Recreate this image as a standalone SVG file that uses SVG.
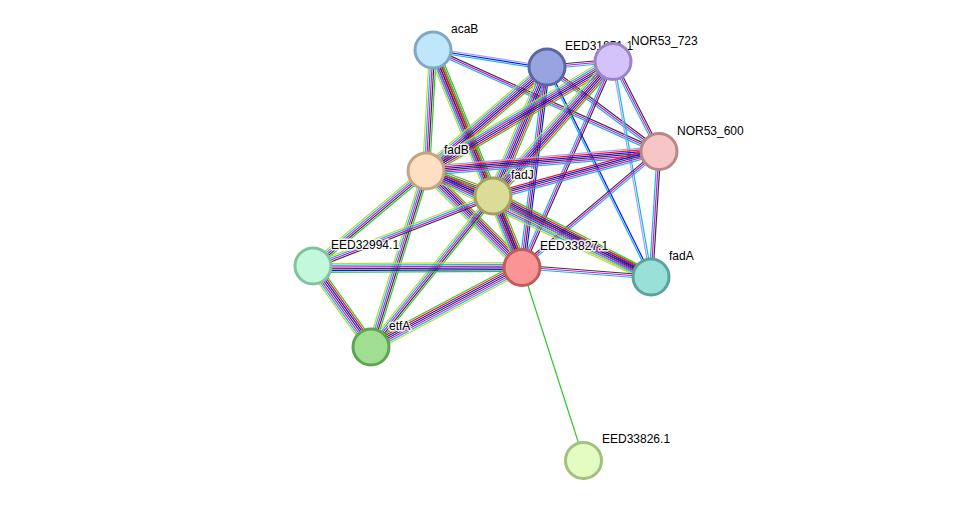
<svg xmlns="http://www.w3.org/2000/svg" width="976" height="506" viewBox="0 0 976 506">
<style>
.e path{fill:none;stroke-width:1.1}
.g{stroke:#30c830}.r{stroke:#ff1010}.b{stroke:#1010ff}.k{stroke:#383838}.m{stroke:#dc10dc}.c{stroke:#18b8e0}.y{stroke:#c0d838}.l{stroke:#a0a0ff}
.n circle{stroke-width:3}
.n text{font-family:"Liberation Sans",Arial,sans-serif;font-size:12px;fill:#000;stroke:#fff;stroke-width:3;stroke-opacity:0.85;paint-order:stroke;stroke-linejoin:round}
</style>
<rect width="976" height="506" fill="#fff"/>
<g id="edges" class="e">
<g transform="translate(433 50) rotate(8.97) scale(115.4 1.1)"><path class="l" d="M0-1.6H1"/><path class="b" d="M0 0H1"/><path class="c" d="M0 1.6H1"/></g>
<g transform="translate(433 50) rotate(24.29) scale(247.9 1.1)"><path class="k" d="M0-1.6H1"/><path class="m" d="M0 0H1"/><path class="c" d="M0 1.6H1"/></g>
<g transform="translate(433 50) rotate(93.28) scale(122.2 1.1)"><path class="g" d="M0-3.2H1"/><path class="k" d="M0-1.6H1"/><path class="m" d="M0 0H1"/><path class="c" d="M0 1.6H1"/><path class="y" d="M0 3.2H1"/></g>
<g transform="translate(433 50) rotate(67.79) scale(158.8 1.1)"><path class="g" d="M0-4.8H1"/><path class="r" d="M0-3.2H1"/><path class="b" d="M0-1.6H1"/><path class="k" d="M0 0H1"/><path class="m" d="M0 1.6H1"/><path class="c" d="M0 3.2H1"/><path class="y" d="M0 4.8H1"/></g>
<g transform="translate(433 50) rotate(67.79) scale(235.5 1.1)"><path class="g" d="M0-3.2H1"/><path class="r" d="M0-1.6H1"/><path class="k" d="M0 0H1"/><path class="m" d="M0 1.6H1"/><path class="c" d="M0 3.2H1"/></g>
<g transform="translate(547 67) rotate(139.32) scale(159.6 1.1)"><path class="g" d="M0-4.8H1"/><path class="r" d="M0-3.2H1"/><path class="b" d="M0-1.6H1"/><path class="k" d="M0 0H1"/><path class="m" d="M0 1.6H1"/><path class="c" d="M0 3.2H1"/><path class="y" d="M0 4.8H1"/></g>
<g transform="translate(547 67) rotate(112.71) scale(139.8 1.1)"><path class="g" d="M0-4.8H1"/><path class="r" d="M0-3.2H1"/><path class="b" d="M0-1.6H1"/><path class="k" d="M0 0H1"/><path class="m" d="M0 1.6H1"/><path class="c" d="M0 3.2H1"/><path class="y" d="M0 4.8H1"/></g>
<g transform="translate(547 67) rotate(97.13) scale(201.6 1.1)"><path class="b" d="M0-2.4H1"/><path class="k" d="M0-0.8H1"/><path class="m" d="M0 0.8H1"/><path class="c" d="M0 2.4H1"/></g>
<g transform="translate(547 67) rotate(36.87) scale(140 1.1)"><path class="k" d="M0-1.6H1"/><path class="m" d="M0 0H1"/><path class="c" d="M0 1.6H1"/></g>
<g transform="translate(547 67) rotate(63.66) scale(234.3 1.1)"><path class="b" d="M0-0.8H1"/><path class="c" d="M0 0.8H1"/></g>
<g transform="translate(547 67) rotate(-5.19) scale(66.3 1.1)"><path class="k" d="M0-1.6H1"/><path class="m" d="M0 0H1"/><path class="c" d="M0 1.6H1"/></g>
<g transform="translate(613 61) rotate(149.53) scale(216.95 1.1)"><path class="g" d="M0-4.8H1"/><path class="r" d="M0-3.2H1"/><path class="b" d="M0-1.6H1"/><path class="k" d="M0 0H1"/><path class="m" d="M0 1.6H1"/><path class="c" d="M0 3.2H1"/><path class="y" d="M0 4.8H1"/></g>
<g transform="translate(613 61) rotate(131.63) scale(180.6 1.1)"><path class="g" d="M0-4.8H1"/><path class="r" d="M0-3.2H1"/><path class="b" d="M0-1.6H1"/><path class="k" d="M0 0H1"/><path class="m" d="M0 1.6H1"/><path class="c" d="M0 3.2H1"/><path class="y" d="M0 4.8H1"/></g>
<g transform="translate(613 61) rotate(113.83) scale(225.2 1.1)"><path class="k" d="M0-1.6H1"/><path class="m" d="M0 0H1"/><path class="c" d="M0 1.6H1"/></g>
<g transform="translate(613 61) rotate(62.93) scale(101.1 1.1)"><path class="k" d="M0-1.6H1"/><path class="m" d="M0 0H1"/><path class="c" d="M0 1.6H1"/></g>
<g transform="translate(613 61) rotate(80.02) scale(219.3 1.1)"><path class="c" d="M0-0.8H1"/><path class="l" d="M0 0.8H1"/></g>
<g transform="translate(426 171) rotate(-4.91) scale(233.9 1.1)"><path class="l" d="M0-4H1"/><path class="r" d="M0-2.4H1"/><path class="b" d="M0-0.8H1"/><path class="k" d="M0 0.8H1"/><path class="m" d="M0 2.4H1"/><path class="c" d="M0 4H1"/></g>
<g transform="translate(493 196) rotate(-15.17) scale(172 1.1)"><path class="r" d="M0-3.2H1"/><path class="b" d="M0-1.6H1"/><path class="k" d="M0 0H1"/><path class="m" d="M0 1.6H1"/><path class="c" d="M0 3.2H1"/></g>
<g transform="translate(522 267) rotate(-40.26) scale(179.5 1.1)"><path class="k" d="M0-1.6H1"/><path class="m" d="M0 0H1"/><path class="c" d="M0 1.6H1"/></g>
<g transform="translate(659 151) rotate(93.63) scale(126.3 1.1)"><path class="k" d="M0-1.6H1"/><path class="m" d="M0 0H1"/><path class="c" d="M0 1.6H1"/></g>
<g transform="translate(426 171) rotate(20.46) scale(71.5 1.1)"><path class="g" d="M0-4.8H1"/><path class="r" d="M0-3.2H1"/><path class="b" d="M0-1.6H1"/><path class="k" d="M0 0H1"/><path class="m" d="M0 1.6H1"/><path class="c" d="M0 3.2H1"/><path class="y" d="M0 4.8H1"/></g>
<g transform="translate(426 171) rotate(45) scale(135.8 1.1)"><path class="g" d="M0-4.8H1"/><path class="r" d="M0-3.2H1"/><path class="b" d="M0-1.6H1"/><path class="k" d="M0 0H1"/><path class="m" d="M0 1.6H1"/><path class="c" d="M0 3.2H1"/><path class="y" d="M0 4.8H1"/></g>
<g transform="translate(426 171) rotate(25.23) scale(248.7 1.1)"><path class="g" d="M0-4.8H1"/><path class="r" d="M0-3.2H1"/><path class="b" d="M0-1.6H1"/><path class="k" d="M0 0H1"/><path class="m" d="M0 1.6H1"/><path class="c" d="M0 3.2H1"/><path class="y" d="M0 4.8H1"/></g>
<g transform="translate(426 171) rotate(139.94) scale(147.6 1.1)"><path class="g" d="M0-3.2H1"/><path class="k" d="M0-1.6H1"/><path class="m" d="M0 0H1"/><path class="c" d="M0 1.6H1"/><path class="y" d="M0 3.2H1"/></g>
<g transform="translate(426 171) rotate(107.35) scale(184.4 1.1)"><path class="g" d="M0-3.2H1"/><path class="k" d="M0-1.6H1"/><path class="m" d="M0 0H1"/><path class="c" d="M0 1.6H1"/><path class="y" d="M0 3.2H1"/></g>
<g transform="translate(493 196) rotate(67.78) scale(76.7 1.1)"><path class="g" d="M0-4.8H1"/><path class="r" d="M0-3.2H1"/><path class="b" d="M0-1.6H1"/><path class="k" d="M0 0H1"/><path class="m" d="M0 1.6H1"/><path class="c" d="M0 3.2H1"/><path class="y" d="M0 4.8H1"/></g>
<g transform="translate(493 196) rotate(27.14) scale(177.6 1.1)"><path class="g" d="M0-4.8H1"/><path class="r" d="M0-3.2H1"/><path class="b" d="M0-1.6H1"/><path class="k" d="M0 0H1"/><path class="m" d="M0 1.6H1"/><path class="c" d="M0 3.2H1"/><path class="y" d="M0 4.8H1"/></g>
<g transform="translate(493 196) rotate(158.75) scale(193.1 1.1)"><path class="k" d="M0-2.4H1"/><path class="m" d="M0-0.8H1"/><path class="c" d="M0 0.8H1"/><path class="y" d="M0 2.4H1"/></g>
<g transform="translate(493 196) rotate(128.94) scale(194.1 1.1)"><path class="g" d="M0-3.2H1"/><path class="k" d="M0-1.6H1"/><path class="m" d="M0 0H1"/><path class="c" d="M0 1.6H1"/><path class="y" d="M0 3.2H1"/></g>
<g transform="translate(522 267) rotate(4.43) scale(129.4 1.1)"><path class="k" d="M0-1.6H1"/><path class="m" d="M0 0H1"/><path class="c" d="M0 1.6H1"/></g>
<g transform="translate(522 267) rotate(179.73) scale(209 1.1)"><path class="g" d="M0-4H1"/><path class="b" d="M0-2.4H1"/><path class="k" d="M0-0.8H1"/><path class="m" d="M0 0.8H1"/><path class="c" d="M0 2.4H1"/><path class="y" d="M0 4H1"/></g>
<g transform="translate(371 347) rotate(-27.92) scale(170.9 1.1)"><path class="g" d="M0-4.8H1"/><path class="r" d="M0-3.2H1"/><path class="b" d="M0-1.6H1"/><path class="k" d="M0 0H1"/><path class="m" d="M0 1.6H1"/><path class="c" d="M0 3.2H1"/><path class="y" d="M0 4.8H1"/></g>
<g transform="translate(522 267) rotate(72.19) scale(202.7 1.1)"><path class="g" d="M0 0H1"/></g>
<g transform="translate(313 266) rotate(54.39) scale(99.6 1.1)"><path class="g" d="M0-4.8H1"/><path class="r" d="M0-3.2H1"/><path class="b" d="M0-1.6H1"/><path class="k" d="M0 0H1"/><path class="m" d="M0 1.6H1"/><path class="c" d="M0 3.2H1"/><path class="y" d="M0 4.8H1"/></g>
</g>
<g id="acaB" class="n"><circle cx="433" cy="50" r="18" fill="#c0e6fb" stroke="#80a8c0"/><text x="451" y="33">acaB</text></g>
<g id="EED31851" class="n"><circle cx="547" cy="67" r="18" fill="#98a4e0" stroke="#5a67a4"/><text x="565" y="50">EED31851.1</text></g>
<g id="NOR53_723" class="n"><circle cx="613" cy="61.5" r="18" fill="#d4c2fa" stroke="#9a84c8"/><text x="631" y="45">NOR53_723</text></g>
<g id="NOR53_600" class="n"><circle cx="659" cy="151.5" r="18" fill="#f6c6c6" stroke="#b88888"/><text x="677" y="135">NOR53_600</text></g>
<g id="fadB" class="n"><circle cx="426" cy="171" r="18" fill="#fddfc2" stroke="#c3a585"/><text x="444" y="154">fadB</text></g>
<g id="fadJ" class="n"><circle cx="493" cy="196" r="18" fill="#dcdc98" stroke="#a3a060"/><text x="511" y="179">fadJ</text></g>
<g id="EED32994" class="n"><circle cx="313" cy="266" r="18" fill="#c2f8dc" stroke="#84c0a2"/><text x="331" y="249">EED32994.1</text></g>
<g id="EED33827" class="n"><circle cx="522" cy="267.5" r="18" fill="#fb9494" stroke="#c05c5c"/><text x="540" y="250">EED33827.1</text></g>
<g id="fadA" class="n"><circle cx="651" cy="277" r="18" fill="#98e0d8" stroke="#5aa49c"/><text x="669" y="260">fadA</text></g>
<g id="etfA" class="n"><circle cx="371" cy="347" r="18" fill="#a0de92" stroke="#5ea452"/><text x="389" y="330">etfA</text></g>
<g id="EED33826" class="n"><circle cx="583.5" cy="460.5" r="18" fill="#e2fcc2" stroke="#a2c07e"/><text x="602" y="443">EED33826.1</text></g>
</svg>
